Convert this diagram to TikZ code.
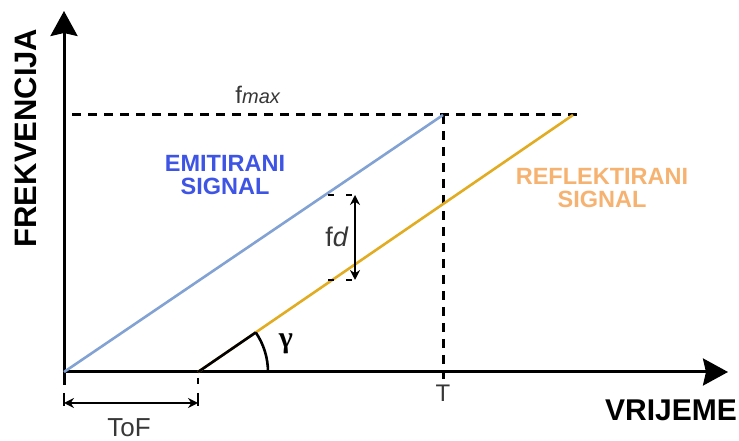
\documentclass[tikz,border=0pt]{standalone}
\usepackage{fontspec}
\setmainfont{Liberation Sans}
\newfontfamily\greekfont{Liberation Serif}
\usetikzlibrary{arrows.meta}
\usetikzlibrary{positioning}
\definecolor{emitline}{RGB}{130,162,212}
\definecolor{emittext}{RGB}{62,84,228}
\definecolor{reflline}{RGB}{226,172,34}
\definecolor{refltext}{RGB}{246,178,112}
\definecolor{labelgray}{RGB}{55,55,55}

\begin{document}
\begin{tikzpicture}[x=1pt,y=1pt,
  axis/.style={line width=3pt,-{Stealth[length=25pt,width=27pt,inset=3pt]}},
  guide/.style={line width=3pt,dash pattern=on 9pt off 7pt},
  signal/.style={line width=2.6pt},
  measure/.style={line width=2pt,{Stealth[length=10pt,width=10pt]}-{Stealth[length=10pt,width=10pt]}},
  bigtitle/.style={font=\bfseries\fontsize{#1}{#1}\selectfont},
  plain/.style={font=\fontsize{#1}{#1}\selectfont}]

\useasboundingbox (0,0) rectangle (739,441);

%---------------------------------------
% Key points
%---------------------------------------
\def\Tx{443}
\def\Fmax{326}
\coordinate (O)    at (64,69);
\coordinate (Ybot) at (64,56);
\coordinate (Ytop) at (64,430);
\coordinate (Xend) at (728,69);
\coordinate (R0)   at (198,69);
\coordinate (E1)   at (\Tx,\Fmax);
\coordinate (R1)   at (573,\Fmax);
\coordinate (Fl)   at (72,\Fmax);
\coordinate (Fr)   at (584,\Fmax);
\coordinate (Tb)   at (\Tx,62);

%---------------------------------------
% Axes
%---------------------------------------
\draw[axis] (Ybot) -- (Ytop);
\draw[axis] (O) -- (Xend);

\node[bigtitle=31pt, rotate=90] (yname) at (26,303) {FREKVENCIJA};
\node[bigtitle=30pt] (xname) at (671,31) {VRIJEME};

%---------------------------------------
% f_max and T guides
%---------------------------------------
\draw[guide] (Fl) -- (Fr);
\draw[guide] (E1) -- (Tb);
\node[plain=24pt, text=labelgray] (fmax) at (258,346) {f\textit{\fontsize{20pt}{20pt}\selectfont max}};
\node[plain=24pt, text=labelgray] (T) at (\Tx,48) {T};

%---------------------------------------
% Signals
%---------------------------------------
\draw[signal, emitline] (O) -- (E1);
\draw[signal, reflline] (R0) -- (R1);

\node[bigtitle=23.5pt, text=emittext, align=center] (emit) at (225,266)
  {EMITIRANI\\[-1pt]SIGNAL};
\node[bigtitle=23.5pt, text=refltext, align=center] (refl) at (602,253)
  {REFLEKTIRANI\\[-1pt]SIGNAL};

%---------------------------------------
% Angle gamma
%---------------------------------------
\draw[line width=2.6pt] (R0) -- ++(34.4:70) coordinate (Rg);
\draw[line width=2.6pt] (R0) ++(0:70) arc[start angle=0,end angle=34.4,radius=70];
\node[font=\greekfont\bfseries\fontsize{30pt}{30pt}\selectfont] (gamma) at (286,97) {γ};

%---------------------------------------
% Doppler shift f_d
%---------------------------------------
\coordinate (Dt) at (355,246);
\coordinate (Db) at (355,161);
\draw[line width=2.4pt, dash pattern=on 6pt off 12pt] (328,246) -- (357,246);
\draw[line width=2.4pt, dash pattern=on 6pt off 12pt] (328,161) -- (357,161);
\draw[measure] (Dt) -- (Db);
\node[plain=27pt, text=labelgray] (fd) at (337,204) {f\textit{d}};

%---------------------------------------
% Time of flight
%---------------------------------------
\coordinate (Ta) at (64,38);
\coordinate (Tc) at (198,38);
\draw[line width=2.4pt] (198,63) -- (198,57);
\draw[line width=2.4pt] (64,48) -- (64,35);
\draw[line width=2.4pt] (198,48) -- (198,35);
\draw[measure] (Ta) -- (Tc);
\node[plain=26pt, text=labelgray] (tof) at (129,13) {ToF};

\end{tikzpicture}
\end{document}
